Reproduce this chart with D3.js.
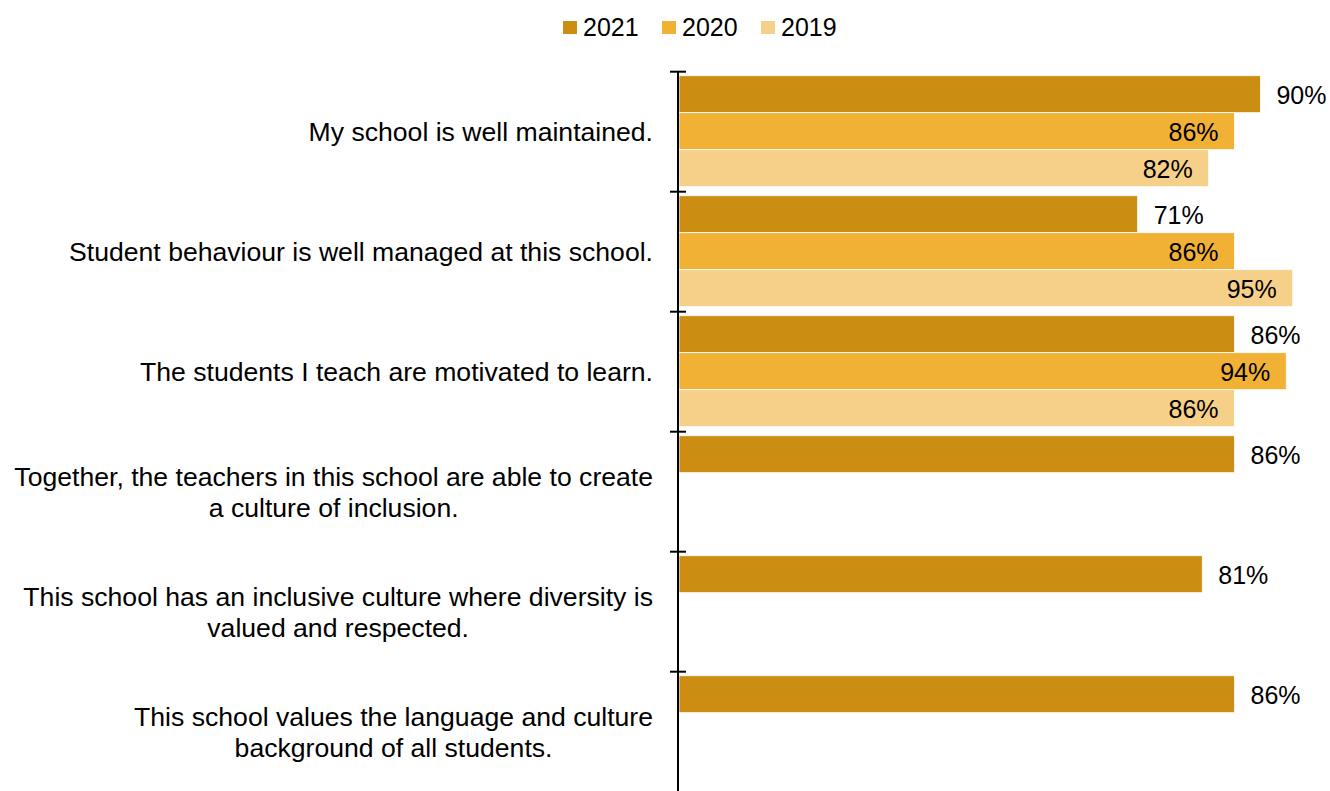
<!DOCTYPE html>
<html>
<head>
<meta charset="utf-8">
<script src="https://cdn.jsdelivr.net/npm/d3@7"></script>
<style>
  html, body { margin: 0; padding: 0; background: #fff; }
  svg { display: block; font-family: "Liberation Sans", Arial, sans-serif; }
</style>
</head>
<body>
<svg id="chart" width="1330" height="791"></svg>
<script>
// Survey statements (line breaks mark where each label wraps)
const categories = [
  "My school is well maintained.",
  "Student behaviour is well managed at this school.",
  "The students I teach are motivated to learn.",
  "Together, the teachers in this school are able to create\na culture of inclusion.",
  "This school has an inclusive culture where diversity is\nvalued and respected.",
  "This school values the language and culture\nbackground of all students."
];
const years = ["2021", "2020", "2019"];
// Percent agreement per year (null = statement not asked that year)
const values2021 = [90, 71, 86, 86, 81, 86];
const values2020 = [86, 86, 94, null, null, null];
const values2019 = [82, 95, 86, null, null, null];
const colors = ["#CC8E12", "#F0B134", "#F6D088"];

const seriesByYear = { "2021": values2021, "2020": values2020, "2019": values2019 };

const svg = d3.select("#chart");
const axisX = 678;

const x = d3.scaleLinear().domain([0, 100]).range([679, 1325]);
const y = d3.scaleBand().domain(categories).range([71.7, 791.7]).paddingInner(0).paddingOuter(0);
const yInner = d3.scaleBand().domain(years).range([4, 115]).padding(0);
const color = d3.scaleOrdinal().domain(years).range(colors);

// Bars
const rows = [];
categories.forEach((c, i) => {
  years.forEach(yr => {
    const v = seriesByYear[yr][i];
    if (v != null) rows.push({ cat: c, year: yr, value: v });
  });
});

svg.append("g").selectAll("rect").data(rows).join("rect")
  .attr("x", x(0))
  .attr("y", d => y(d.cat) + yInner(d.year))
  .attr("width", d => x(d.value) - x(0))
  .attr("height", yInner.bandwidth())
  .attr("fill", d => color(d.year))
  .attr("stroke", "#fff")
  .attr("stroke-width", 0.8);

// Value labels: outside for 2021, inside bar end for earlier years
svg.append("g").selectAll("text").data(rows).join("text")
  .attr("x", d => d.year === "2021" ? x(d.value) + 16 : x(d.value) - 16)
  .attr("y", d => y(d.cat) + yInner(d.year) + yInner.bandwidth() / 2 + 1)
  .attr("dy", "0.35em")
  .attr("text-anchor", d => d.year === "2021" ? "start" : "end")
  .attr("font-size", 25)
  .attr("fill", "#000")
  .text(d => d.value + "%");

// Category axis with ticks crossing the line
const axisG = svg.append("g");
axisG.append("line")
  .attr("x1", axisX).attr("x2", axisX)
  .attr("y1", y.range()[0]).attr("y2", 791)
  .attr("stroke", "#000").attr("stroke-width", 2);
axisG.selectAll("line.tick").data(categories).join("line")
  .attr("class", "tick")
  .attr("x1", axisX - 8).attr("x2", axisX + 8)
  .attr("y1", d => y(d)).attr("y2", d => y(d))
  .attr("stroke", "#000").attr("stroke-width", 2);

// Category labels: the text block is right aligned to the axis,
// and the lines inside a wrapped label are centred on each other
const lineHeight = 31;
const labelRight = 653;
const labels = svg.append("g").selectAll("text").data(categories).join("text")
  .attr("font-size", 26.6)
  .attr("fill", "#000");
labels.each(function(d) {
  const lines = d.split("\n");
  const cy = y(d) + y.bandwidth() / 2;
  const top = cy - (lines.length - 1) * lineHeight / 2;
  const t = d3.select(this);
  const spans = t.selectAll("tspan").data(lines).join("tspan")
    .attr("y", (l, i) => top + i * lineHeight)
    .attr("dy", "0.35em")
    .text(l => l);
  let maxW = 0;
  spans.each(function() { maxW = Math.max(maxW, this.getComputedTextLength()); });
  t.attr("text-anchor", "middle");
  spans.attr("x", labelRight - maxW / 2);
});

// Legend
const legendItems = [
  { year: "2021", x: 563 },
  { year: "2020", x: 662 },
  { year: "2019", x: 761 }
];
const legend = svg.append("g").selectAll("g").data(legendItems).join("g")
  .attr("transform", d => `translate(${d.x},0)`);
legend.append("rect")
  .attr("x", 0).attr("y", 21).attr("width", 14).attr("height", 13)
  .attr("fill", d => color(d.year));
legend.append("text")
  .attr("x", 20).attr("y", 27.5).attr("dy", "0.35em")
  .attr("font-size", 25)
  .attr("fill", "#000")
  .text(d => d.year);
</script>
</body>
</html>
